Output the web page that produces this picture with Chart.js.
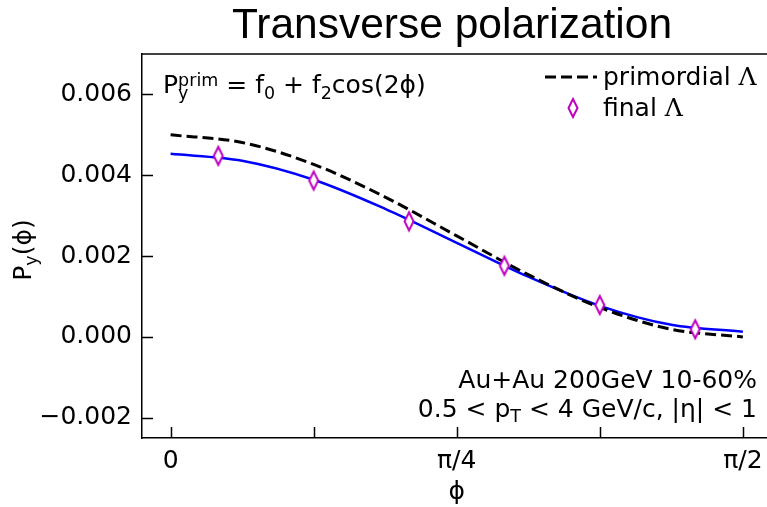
<!DOCTYPE html>
<html>
<head>
<meta charset="utf-8">
<script src="https://cdn.jsdelivr.net/npm/chart.js@4.4.0/dist/chart.umd.min.js"></script>
<style>
  html, body { margin: 0; padding: 0; background: #fff; overflow: hidden; }
</style>
</head>
<body>
<canvas id="chart-canvas" width="767" height="507"></canvas>
<script>
// values
const phiCurve = [0, 0.1963, 0.3927, 0.5890, 0.7854, 0.9817, 1.1781, 1.3744, 1.5708];
const primordialCurve = [0.00500, 0.00481, 0.00427, 0.00346, 0.00250, 0.00154, 0.00073, 0.00019, 0.00000];
const finalCurve = [0.00453, 0.00436, 0.00389, 0.00317, 0.00233, 0.00149, 0.00077, 0.00030, 0.00013];
const phiPoints = [0.1309, 0.3927, 0.6545, 0.9163, 1.1781, 1.4399];
const finalPoints = [0.00448, 0.00387, 0.00286, 0.00176, 0.00079, 0.00019];

const xTickValues = [0, Math.PI / 8, Math.PI / 4, 3 * Math.PI / 8, Math.PI / 2];
const xTickLabels = ['0', '', 'π/4', '', 'π/2'];
const yTickValues = [-0.002, 0, 0.002, 0.004, 0.006];
const yTickLabels = ['−0.002', '0.000', '0.002', '0.004', '0.006'];

const FONT = '"DejaVu Sans", sans-serif';
const SERIF = '"DejaVu Serif", serif';
const BASE = 25;
const SMALL = 17.5;

// thin open diamond marker
const diamond = document.createElement('canvas');
diamond.width = 14; diamond.height = 24;
(function(){
    const c = diamond.getContext('2d');
    c.fillStyle = '#fff';
    c.strokeStyle = '#bf00bf';
    c.lineWidth = 2;
    c.beginPath();
    c.moveTo(7, 3); c.lineTo(11.5, 12); c.lineTo(7, 21); c.lineTo(2.5, 12); c.closePath();
    c.fill(); c.stroke();
})();

// draw a run of text pieces with sub/superscripts
function partsWidth(ctx, parts){
    let w = 0;
    parts.forEach(function(p){
        if (p.sup !== undefined){
            ctx.font = SMALL + 'px ' + FONT;
            w += Math.max(ctx.measureText(p.sup).width, ctx.measureText(p.sub).width);
        } else {
            ctx.font = (p.s || BASE) + 'px ' + (p.f || FONT);
            w += ctx.measureText(p.t).width;
        }
    });
    return w;
}
function drawParts(ctx, x, y, parts){
    ctx.textAlign = 'left';
    ctx.textBaseline = 'alphabetic';
    parts.forEach(function(p){
        if (p.sup !== undefined){
            ctx.font = SMALL + 'px ' + FONT;
            ctx.fillText(p.sup, x, y - 7);
            ctx.fillText(p.sub, x, y + 6);
            x += Math.max(ctx.measureText(p.sup).width, ctx.measureText(p.sub).width);
        } else {
            ctx.font = (p.s || BASE) + 'px ' + (p.f || FONT);
            ctx.fillText(p.t, x, y + (p.dy || 0));
            x += ctx.measureText(p.t).width;
        }
    });
}

const sub = function(t){ return {t: t, s: SMALL, dy: 6}; };

const decorPlugin = {
    id: 'decor',
    afterDatasetsDraw: function(chart){
        const ctx = chart.ctx;
        const a = chart.chartArea;
        const xs = chart.scales.x, ys = chart.scales.y;
        ctx.save();
        ctx.strokeStyle = '#000';
        ctx.lineWidth = 1.5;
        // top spine
        ctx.beginPath();
        ctx.moveTo(a.left, a.top); ctx.lineTo(a.right, a.top);
        ctx.stroke();
        // inward ticks
        ctx.beginPath();
        xTickValues.forEach(function(v){
            const px = Math.round(xs.getPixelForValue(v)) + 0.5;
            ctx.moveTo(px, a.bottom); ctx.lineTo(px, a.bottom - 11);
        });
        yTickValues.forEach(function(v){
            const py = Math.round(ys.getPixelForValue(v)) + 0.5;
            ctx.moveTo(a.left, py); ctx.lineTo(a.left + 11, py);
        });
        ctx.stroke();
        ctx.restore();
    },
    afterDraw: function(chart){
        const ctx = chart.ctx;
        const a = chart.chartArea;
        const xs = chart.scales.x;
        ctx.save();
        ctx.fillStyle = '#000';

        // title
        ctx.font = '42.5px "Liberation Sans", sans-serif';
        ctx.textAlign = 'center';
        ctx.textBaseline = 'alphabetic';
        ctx.fillText('Transverse polarization', 452, 38);

        // formula
        drawParts(ctx, a.left + 21, a.top + 39, [
            {t: 'P'}, {sup: 'prim', sub: 'y'},
            {t: ' = f'}, sub('0'), {t: ' + f'}, sub('2'), {t: 'cos(2ϕ)'}
        ]);

        // legend
        ctx.strokeStyle = '#000';
        ctx.lineWidth = 3;
        ctx.setLineDash([11, 5]);
        ctx.beginPath();
        ctx.moveTo(545, a.top + 23); ctx.lineTo(597, a.top + 23);
        ctx.stroke();
        ctx.setLineDash([]);
        ctx.drawImage(diamond, 573 - 7, a.top + 54 - 12);
        drawParts(ctx, 603, a.top + 31, [{t: 'primordial '}, {t: 'Λ', f: SERIF}]);
        drawParts(ctx, 603, a.top + 62, [{t: 'final '}, {t: 'Λ', f: SERIF}]);

        // bottom right notes
        const line1 = [{t: 'Au+Au 200GeV 10-60%'}];
        const line2 = [{t: '0.5 < p'}, {t: 'T', s: SMALL, dy: 5}, {t: ' < 4 GeV/c, |η| < 1'}];
        drawParts(ctx, 757 - partsWidth(ctx, line1), 388, line1);
        drawParts(ctx, 757 - partsWidth(ctx, line2), 417, line2);

        // axis titles
        ctx.textAlign = 'center';
        ctx.font = BASE + 'px ' + FONT;
        ctx.fillText('ϕ', xs.getPixelForValue(Math.PI / 4), 499);

        const ylab = [{t: 'P'}, {t: 'y', s: SMALL, dy: 6}, {t: '(ϕ)'}];
        const w = partsWidth(ctx, ylab);
        ctx.translate(31, (a.top + a.bottom) / 2 + 4);
        ctx.rotate(-Math.PI / 2);
        drawParts(ctx, -w / 2, 0, ylab);
        ctx.restore();
    }
};

const ctx = document.getElementById('chart-canvas').getContext('2d');
const chart = new Chart(ctx, {
    type: 'line',
    data: {
        datasets: [
            {
                label: 'final Λ',
                data: phiPoints.map(function(x, i){ return {x: x, y: finalPoints[i]}; }),
                showLine: false,
                pointStyle: diamond,
                pointRadius: 9,
                order: 0
            },
            {
                label: 'primordial Λ',
                data: phiCurve.map(function(x, i){ return {x: x, y: primordialCurve[i]}; }),
                borderColor: '#000000',
                borderWidth: 3,
                borderDash: [11, 5],
                pointRadius: 0,
                cubicInterpolationMode: 'monotone',
                fill: false,
                order: 1
            },
            {
                label: 'fit',
                data: phiCurve.map(function(x, i){ return {x: x, y: finalCurve[i]}; }),
                borderColor: '#0000ff',
                borderWidth: 2.5,
                pointRadius: 0,
                cubicInterpolationMode: 'monotone',
                fill: false,
                order: 2
            }
        ]
    },
    options: {
        responsive: false,
        devicePixelRatio: 1,
        animation: false,
        layout: { autoPadding: false, padding: { top: 54, left: 0, right: 0, bottom: 0 } },
        plugins: {
            legend: { display: false },
            tooltip: { enabled: false },
            title: { display: false }
        },
        scales: {
            x: {
                type: 'linear',
                min: -0.0785,
                max: 1.637,
                grid: { display: false, drawTicks: false },
                border: { display: true, color: '#000', width: 1.5 },
                afterBuildTicks: function(scale){
                    scale.ticks = xTickValues.map(function(v){ return {value: v}; });
                },
                afterFit: function(scale){
                    scale.height = 69;
                    scale.paddingLeft = 0;
                    scale.paddingRight = 0;
                },
                ticks: {
                    autoSkip: false,
                    maxRotation: 0,
                    minRotation: 0,
                    padding: 8,
                    color: '#000',
                    font: { family: FONT, size: BASE },
                    callback: function(value, index){ return xTickLabels[index]; }
                }
            },
            y: {
                type: 'linear',
                min: -0.0025,
                max: 0.007,
                grid: { display: false, drawTicks: false },
                border: { display: true, color: '#000', width: 1.5 },
                afterBuildTicks: function(scale){
                    scale.ticks = yTickValues.map(function(v){ return {value: v}; });
                },
                afterFit: function(scale){
                    scale.width = 142;
                    scale.paddingTop = 0;
                    scale.paddingBottom = 0;
                },
                ticks: {
                    autoSkip: false,
                    padding: 10,
                    color: '#000',
                    font: { family: FONT, size: BASE },
                    callback: function(value, index){ return yTickLabels[index]; }
                }
            }
        }
    },
    plugins: [decorPlugin]
});
</script>
</body>
</html>
